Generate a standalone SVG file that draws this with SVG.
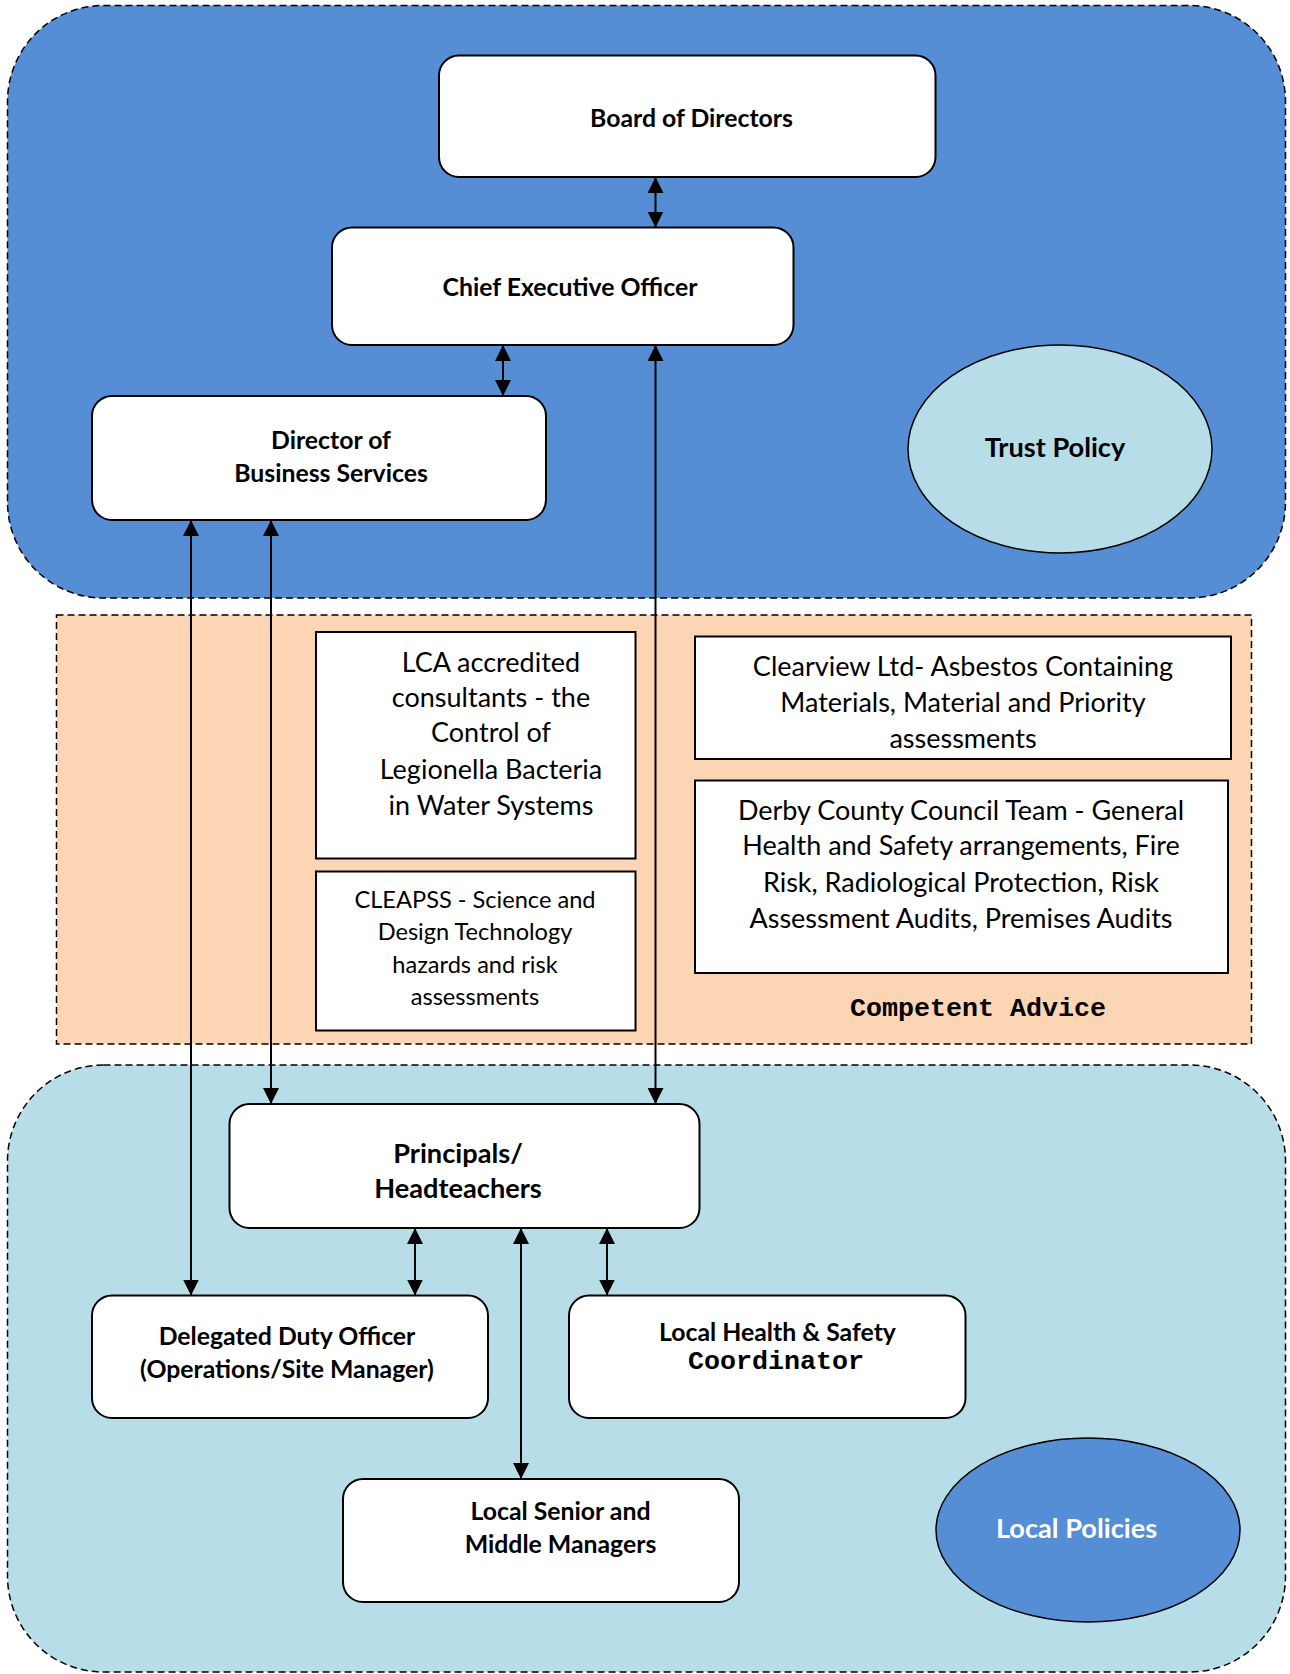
<svg xmlns="http://www.w3.org/2000/svg" width="1290" height="1674" viewBox="0 0 1290 1674">
<style>
.cont{stroke:#000;stroke-width:1.5;stroke-dasharray:7,4}
.node{fill:#fff;stroke:#000;stroke-width:2}
.sq{fill:#fff;stroke:#000;stroke-width:2}
.b{font-family:Lato,"Open Sans",sans-serif;font-weight:bold;font-size:24.8px;fill:#000;text-anchor:middle}
.bl{font-family:Lato,"Open Sans",sans-serif;font-weight:bold;font-size:27.2px;fill:#000;text-anchor:middle}
.r{font-family:Lato,"Open Sans",sans-serif;font-size:27px;fill:#000;text-anchor:middle}
.rs{font-family:Lato,"Open Sans",sans-serif;font-size:23.6px;fill:#000;text-anchor:middle}
.m{font-family:"Liberation Mono","Courier New",monospace;font-weight:bold;font-size:26.7px;fill:#000;text-anchor:middle}
.con{stroke:#000;stroke-width:2;marker-start:url(#ah);marker-end:url(#ah)}
</style>
<defs>
<marker id="ah" viewBox="0 0 16 16" refX="16" refY="8" markerWidth="16" markerHeight="16" markerUnits="userSpaceOnUse" orient="auto-start-reverse">
<path d="M0,0 L16,8 L0,16 Z" fill="#000"/>
</marker>
</defs>

<g id="trust-container">
<rect class="cont" x="7.5" y="5.5" width="1278" height="592.5" rx="96" ry="96" fill="#558ED5"/>
</g>
<g id="competent-container">
<rect class="cont" x="56.5" y="615" width="1195" height="429" fill="#FCD5B5"/>
</g>
<g id="local-container">
<rect class="cont" x="7.5" y="1065" width="1278" height="607" rx="96" ry="96" fill="#B7DEE8"/>
</g>

<g id="connectors">
<line class="con" x1="655.5" y1="177" x2="655.5" y2="227.5"/>
<line class="con" x1="503" y1="345" x2="503" y2="396"/>
<line class="con" x1="191" y1="520" x2="191" y2="1295.5"/>
<line class="con" x1="271" y1="520" x2="271" y2="1104"/>
<line class="con" x1="655.5" y1="345" x2="655.5" y2="1104"/>
<line class="con" x1="415" y1="1228" x2="415" y2="1295.5"/>
<line class="con" x1="521" y1="1228" x2="521" y2="1479"/>
<line class="con" x1="607" y1="1228" x2="607" y2="1295.5"/>
</g>

<g id="board">
<rect class="node" x="439" y="55.5" width="496.5" height="121.5" rx="20"/>
<text class="b" x="691.5" y="127">Board of Directors</text>
</g>
<g id="ceo">
<rect class="node" x="332" y="227.5" width="461.5" height="117.5" rx="20"/>
<text class="b" x="570" y="296">Chief Executive Officer</text>
</g>
<g id="director">
<rect class="node" x="92" y="396" width="454" height="124" rx="20"/>
<text class="b" x="331" y="449">Director of</text>
<text class="b" x="331" y="482">Business Services</text>
</g>
<g id="trust-policy">
<ellipse cx="1060" cy="449" rx="152" ry="104" fill="#B7DEE8" stroke="#000" stroke-width="1.5"/>
<text class="bl" x="1055" y="457">Trust Policy</text>
</g>

<g id="lca">
<rect class="sq" x="316" y="632" width="319.5" height="226.5"/>
<text class="r" x="491" y="671.5">LCA accredited</text>
<text class="r" x="491" y="707">consultants - the</text>
<text class="r" x="491" y="742">Control of</text>
<text class="r" x="491" y="778.5">Legionella Bacteria</text>
<text class="r" x="491" y="814.5">in Water Systems</text>
</g>
<g id="cleapss">
<rect class="sq" x="316" y="871.5" width="319.5" height="159"/>
<text class="rs" x="475" y="907.5">CLEAPSS - Science and</text>
<text class="rs" x="475" y="939.5">Design Technology</text>
<text class="rs" x="475" y="972.5">hazards and risk</text>
<text class="rs" x="475" y="1004.5">assessments</text>
</g>
<g id="clearview">
<rect class="sq" x="695" y="636.5" width="536" height="122.5"/>
<text class="r" x="963" y="676">Clearview Ltd- Asbestos Containing</text>
<text class="r" x="963" y="712">Materials, Material and Priority</text>
<text class="r" x="963" y="747.5">assessments</text>
</g>
<g id="derby">
<rect class="sq" x="695" y="780.5" width="533" height="192.5"/>
<text class="r" x="961" y="820">Derby County Council Team - General</text>
<text class="r" x="961" y="855">Health and Safety arrangements, Fire</text>
<text class="r" x="961" y="891.5">Risk, Radiological Protection, Risk</text>
<text class="r" x="961" y="928">Assessment Audits, Premises Audits</text>
</g>
<g id="competent-label">
<text class="m" x="978" y="1016">Competent Advice</text>
</g>

<g id="principals">
<rect class="node" x="229.5" y="1104" width="470" height="124" rx="20"/>
<text class="bl" x="458" y="1163">Principals/</text>
<text class="bl" x="458" y="1198">Headteachers</text>
</g>
<g id="delegated">
<rect class="node" x="92" y="1295.5" width="396" height="122.5" rx="20"/>
<text class="b" x="287" y="1345">Delegated Duty Officer</text>
<text class="b" x="287" y="1378">(Operations/Site Manager)</text>
</g>
<g id="local-hs">
<rect class="node" x="569" y="1295.5" width="396.5" height="122.5" rx="20"/>
<text class="b" x="777.5" y="1341">Local Health &amp; Safety</text>
<text class="m" x="776" y="1369">Coordinator</text>
</g>
<g id="local-senior">
<rect class="node" x="343" y="1479" width="396" height="123" rx="20"/>
<text class="b" x="560.5" y="1520">Local Senior and</text>
<text class="b" x="560.5" y="1553">Middle Managers</text>
</g>
<g id="local-policies">
<ellipse cx="1088" cy="1530" rx="152" ry="92" fill="#558ED5" stroke="#000" stroke-width="1.5"/>
<text class="bl" x="1076.5" y="1537.5" style="fill:#fff">Local Policies</text>
</g>
</svg>
